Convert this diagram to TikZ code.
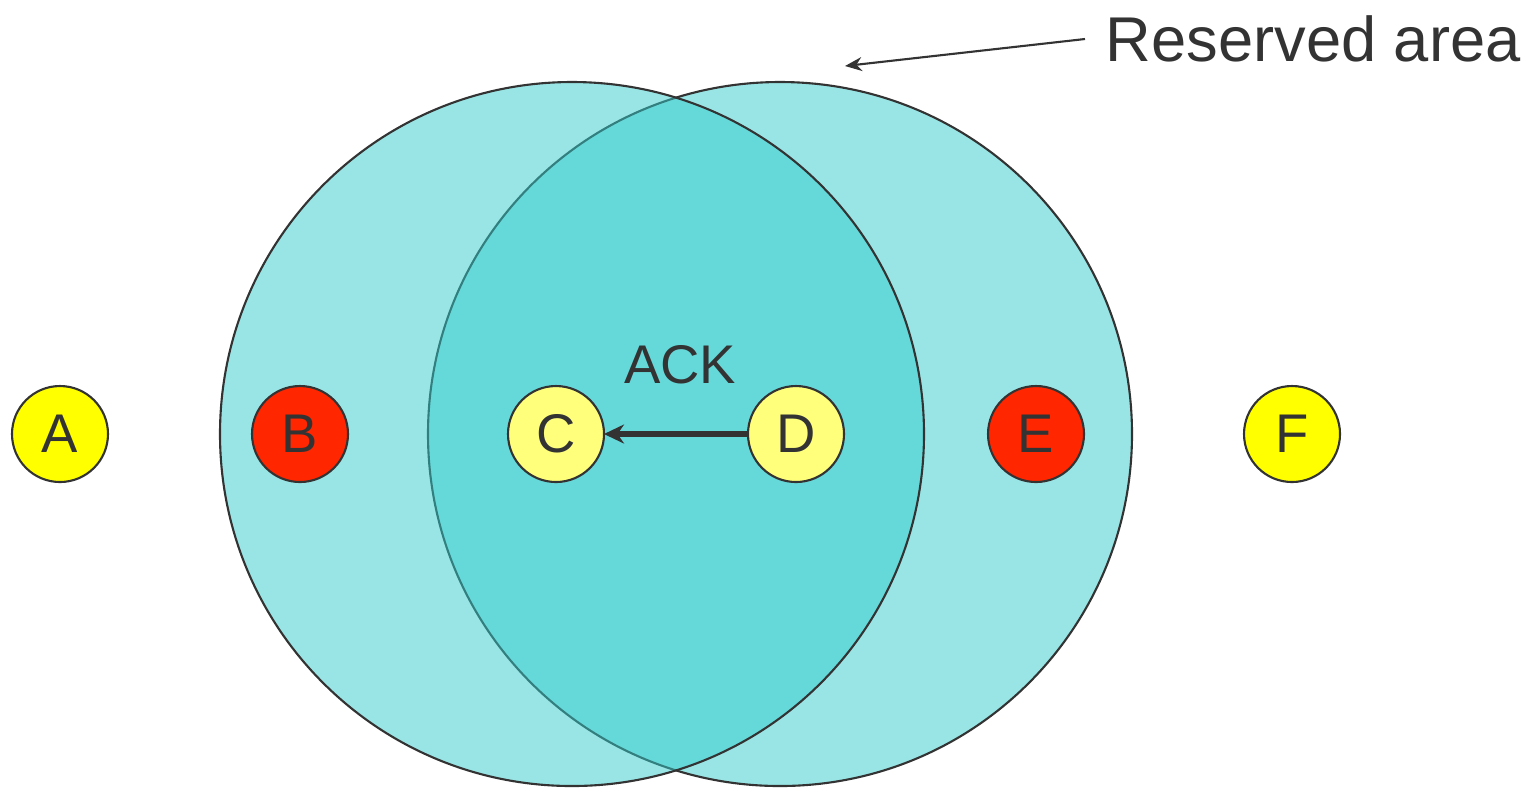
\documentclass[tikz,border=0pt]{standalone}
\usepackage{fontspec}
\setmainfont{Liberation Sans}
\usetikzlibrary{arrows.meta,positioning}
\definecolor{darkline}{HTML}{333333}
\definecolor{areacyan}{HTML}{33CCCC}
\definecolor{hotred}{HTML}{FF2600}
\definecolor{pureyellow}{HTML}{FFFF00}
\definecolor{paleyellow}{HTML}{FFFF7C}

\begin{document}
\begin{tikzpicture}[
	station/.style={circle,draw=darkline,line width=0.6pt,minimum size=0.96cm,inner sep=0pt,
		outer sep=0pt,text=darkline,font=\fontsize{15.5}{15.5}\selectfont},
	area/.style={fill=areacyan,fill opacity=0.5,draw=darkline,line width=0.6pt}]
	\useasboundingbox (0,0) rectangle (15.36,-7.87);

	% The reserved areas (right one first, left one on top)
	\draw[area] (7.80,-4.34) circle[radius=3.52cm];
	\draw[area] (5.72,-4.34) circle[radius=3.52cm];

	% The stations
	\node[station,fill=pureyellow] (A) at (0.60,-4.34) {A};
	\node[station,fill=hotred,right=1.44cm of A] (B) {B};
	\node[station,fill=paleyellow,right=1.60cm of B] (C) {C};
	\node[station,fill=paleyellow,right=1.44cm of C] (D) {D};
	\node[station,fill=hotred,right=1.44cm of D] (E) {E};
	\node[station,fill=pureyellow,right=1.60cm of E] (F) {F};

	% The ACK from D to C
	\draw[-{Stealth[length=0.2cm,width=0.19cm]},darkline,line width=1.5pt] (D) -- node[midway,above=0.36cm,
		xshift=0.04cm,text=darkline,font=\fontsize{15.5}{15.5}\selectfont] (ack) {ACK} (C);

	% Label the reserved area
	\node[anchor=west,inner sep=0.2cm,text=darkline,font=\fontsize{18}{20}\selectfont]
		(reserved) at (10.85,-0.39) {Reserved area};
	\coordinate (resv) at (8.45,-0.66);
	\draw[-{Stealth[length=0.17cm,width=0.14cm]},darkline,line width=0.6pt] (reserved.west) -- (resv);
\end{tikzpicture}
\end{document}
